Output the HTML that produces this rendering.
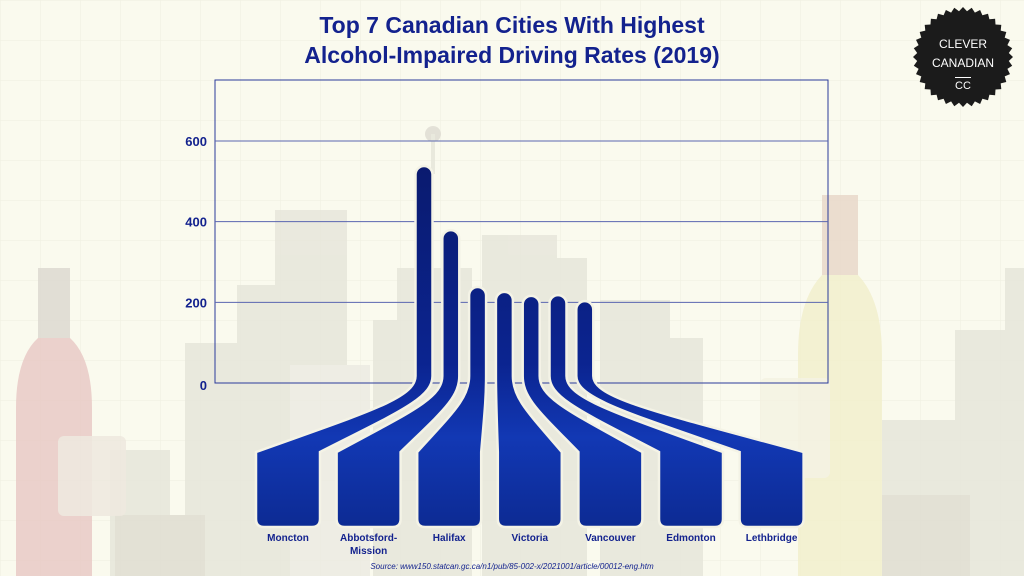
<!DOCTYPE html>
<html><head><meta charset="utf-8"><style>
html,body{margin:0;padding:0;}
body{width:1024px;height:576px;overflow:hidden;background:#fafaee;font-family:"Liberation Sans",sans-serif;}
svg{display:block}
</style></head><body>
<svg id="chart" width="1024" height="576" viewBox="0 0 1024 576" xmlns="http://www.w3.org/2000/svg">
<defs>
<linearGradient id="rib" gradientUnits="userSpaceOnUse" x1="0" y1="160" x2="0" y2="530">
<stop offset="0" stop-color="#0a1a6e"/><stop offset="0.55" stop-color="#0b2490"/><stop offset="0.75" stop-color="#1238b4"/><stop offset="1" stop-color="#0c2a92"/>
</linearGradient>
<pattern id="grid" width="40" height="40" patternUnits="userSpaceOnUse"><path d="M40 0H0V40" fill="none" stroke="#efefe0" stroke-width="1"/></pattern>
</defs>
<rect width="1024" height="576" fill="#fafaee"/>
<rect width="1024" height="576" fill="url(#grid)"/>
<g id="bg" fill="#e6e5da" opacity="0.8">
<rect x="185" y="343" width="60" height="233"/>
<rect x="237" y="285" width="75" height="291"/>
<rect x="275" y="210" width="72" height="366"/>
<rect x="290" y="365" width="80" height="211" fill="#ecebe2"/>
<rect x="373" y="320" width="40" height="256"/>
<rect x="397" y="268" width="75" height="308"/>
<rect x="482" y="235" width="75" height="341"/>
<rect x="515" y="258" width="72" height="318"/>
<rect x="600" y="300" width="70" height="276"/>
<rect x="618" y="338" width="85" height="238"/>
<rect x="110" y="450" width="60" height="126"/>
<rect x="115" y="515" width="90" height="61" fill="#dedcd0"/>
<rect x="860" y="420" width="100" height="156"/>
<rect x="955" y="330" width="69" height="246"/>
<rect x="1005" y="268" width="19" height="308"/>
<rect x="880" y="495" width="90" height="81" fill="#dedcd0"/>
<circle cx="433" cy="134" r="8" fill="#dedcd2"/><rect x="431" y="134" width="4" height="40"/>
<path d="M38 268h32v70q22 20 22 70v168h-76v-168q0-50 22-70z" fill="#e8c8c4"/>
<rect x="38" y="268" width="32" height="70" fill="#dcd8d0"/>
<path d="M822 195h36v80q24 25 24 80v221h-84v-221q0-55 24-80z" fill="#f2efcc"/>
<rect x="822" y="195" width="36" height="80" fill="#e8d6c8"/>
<rect x="760" y="378" width="70" height="100" rx="6" fill="#f3f1e0" opacity="0.9"/>
<rect x="58" y="436" width="68" height="80" rx="6" fill="#ece4dc" opacity="0.9"/>
</g>
<g font-family="Liberation Sans, sans-serif" font-weight="bold" font-size="23" fill="#13228e" text-anchor="middle">
<text x="512" y="33">Top 7 Canadian Cities With Highest</text>
<text x="512" y="63">Alcohol-Impaired Driving Rates (2019)</text>
</g>
<g>
<polygon id="star" fill="#1b1b1b"/>
<g fill="#fff" font-family="Liberation Sans, sans-serif" font-size="12" text-anchor="middle">
<text x="963" y="48">CLEVER</text>
<text x="963" y="67">CANADIAN</text>
<text x="963" y="89" font-size="11">CC</text>
<rect x="955" y="77" width="16" height="1"/>
</g>
</g>
<rect x="215" y="80" width="613" height="303" fill="none" stroke="#2a3a9a" stroke-width="1"/>
<g id="grid-lines"></g>
<g id="yticks" font-family="Liberation Sans, sans-serif" font-weight="bold" font-size="13" fill="#13228e" text-anchor="end"></g>
<g id="ribbons"></g>
<g id="xlabels" font-family="Liberation Sans, sans-serif" font-weight="bold" font-size="10" fill="#13228e" text-anchor="middle"></g>
<text x="512" y="569" text-anchor="middle" font-family="Liberation Sans, sans-serif" font-style="italic" font-size="8" fill="#13228e">Source: www150.statcan.gc.ca/n1/pub/85-002-x/2021001/article/00012-eng.htm</text>
</svg>
<script>
const categories = ["Moncton","Abbotsford-\nMission","Halifax","Victoria","Vancouver","Edmonton","Lethbridge"];
const values = [538, 379, 238, 226, 216, 218, 203];
const tickValues = [0, 200, 400, 600];
const tickLabels = ["0", "200", "400", "600"];

const NS = "http://www.w3.org/2000/svg";
const y0 = 383, pxPerUnit = (383 - 141) / 600;
function yScale(v){ return y0 - v * pxPerUnit; }
function stemX(i){ return 424 + i * 26.8; }
function boxX(i){ return 256 + i * 80.6; }

(function(){
  const pts=[];const cx=963,cy=57,n=36;
  for(let k=0;k<n*2;k++){const r=k%2?46:50;const a=Math.PI*k/n;pts.push((cx+r*Math.cos(a)).toFixed(1)+","+(cy+r*Math.sin(a)).toFixed(1));}
  document.getElementById('star').setAttribute('points',pts.join(' '));
})();

const gl = document.getElementById('grid-lines');
const yt = document.getElementById('yticks');
tickValues.forEach((v,i)=>{
  const y = yScale(v);
  if(v>0){
    const l=document.createElementNS(NS,'line');
    
    
    l.setAttribute('x1',215);l.setAttribute('x2',828);l.setAttribute('y1',y);l.setAttribute('y2',y);
    l.setAttribute('stroke','#5a66b0');l.setAttribute('stroke-width','1');
    gl.appendChild(l);
  }
  const t=document.createElementNS(NS,'text');
  
  
  t.setAttribute('x',207);t.setAttribute('y',y+(v===0?7:5));
  t.textContent=tickLabels[i];
  yt.appendChild(t);
});

function edge(X,bX){ // from (X,376) down to (bX,456)
  const cx2 = X+(bX-X)*0.3;
  return {c1:`${X},398`, c2:`${cx2},412`, end:`${bX},452`};
}
const rg = document.getElementById('ribbons');
const xl = document.getElementById('xlabels');
values.forEach((v,i)=>{
  const sx=stemX(i), hw=8.5, top=yScale(v), bx=boxX(i), bw=64;
  const L=sx-hw, R=sx+hw, bL=bx, bR=bx+bw, bb=527, r=8;
  const eR=edge(R,bR), eL=edge(L,bL);
  const d=`M${L},${top+hw} A${hw},${hw} 0 0 1 ${R},${top+hw} L${R},376 C${eR.c1} ${eR.c2} ${eR.end} Q${bR},455 ${bR},466 L${bR},${bb-r} Q${bR},${bb} ${bR-r},${bb} L${bL+r},${bb} Q${bL},${bb} ${bL},${bb-r} L${bL},466 Q${bL},455 ${eL.end} C${eL.c2} ${eL.c1} ${L},376 Z`;
  const p=document.createElementNS(NS,'path');
  
  
  p.setAttribute('d',d);
  p.setAttribute('fill','url(#rib)');
  p.setAttribute('stroke','#f4f3e6');p.setAttribute('stroke-width','2.5');
  rg.appendChild(p);
  const lines=categories[i].split('\n');
  lines.forEach((s,k)=>{
    const t=document.createElementNS(NS,'text');
    
    
    t.setAttribute('x',bx+bw/2);t.setAttribute('y',541+k*13);
    t.textContent=s;
    xl.appendChild(t);
  });
});
</script>
</body></html>
